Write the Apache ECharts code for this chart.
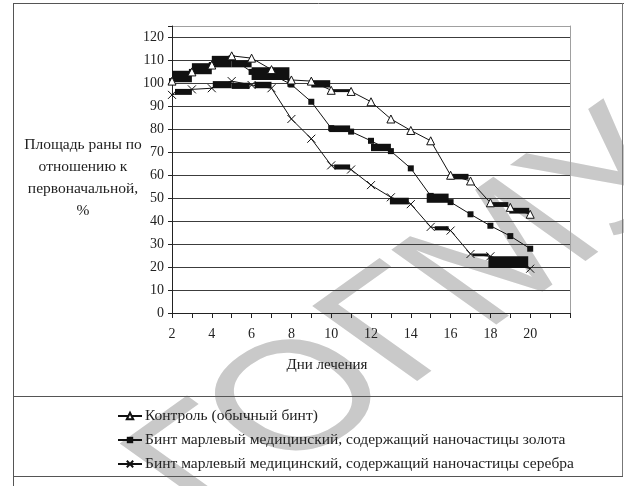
<!DOCTYPE html>
<html>
<head>
<meta charset="utf-8">
<script src="https://cdn.jsdelivr.net/npm/echarts@6/dist/echarts.min.js"></script>
<style>
  html, body { margin: 0; padding: 0; background: #fff; }
  #chart { width: 624px; height: 486px; }
</style>
</head>
<body>
<div id="chart"></div>
<script>
// Дни лечения
const days = [2, 3, 4, 5, 6, 7, 8, 9, 10, 11, 12, 13, 14, 15, 16, 17, 18, 19, 20];

// Площадь раны, % от первоначальной
const control = [101, 105, 108, 112, 111, 106, 101.5, 101, 97, 96.5, 92, 84.5, 79.5, 75, 60, 57.5, 48, 46, 43];
const gold    = [101, 105, 108, 111, 105, 104, 99.5, 92, 80.5, 79, 75, 70.5, 63, 51, 48.3, 43, 38, 33.5, 28];
const silver  = [95, 97.4, 97.9, 101, 99.3, 97.9, 84.5, 75.9, 64.3, 62.5, 55.7, 50.4, 47.4, 37.5, 35.9, 25.7, 24.7, 21.8, 19.3];

const seriesNames = [
  'Контроль (обычный бинт)',
  'Бинт марлевый медицинский, содержащий наночастицы золота',
  'Бинт марлевый медицинский, содержащий наночастицы серебра'
];

// Thick dark segments along the curves: [day from, day to, value low, value high]
const heavySegments = [
  [2, 3, 100.5, 105.5], [3, 4, 104, 108.8], [4, 5, 107, 112], [5, 6, 107, 110],
  [6, 7.9, 101.5, 107], [7.8, 8.05, 98.5, 101.5],
  [2.15, 3, 95, 97.6], [4.05, 5, 97.9, 101], [5, 5.9, 97.6, 100.3], [6.15, 7, 97.9, 100.7],
  [9, 9.95, 98.2, 101.4], [10.05, 10.95, 96.2, 97.5], [9.9, 10.95, 78.8, 81.7],
  [12, 13, 70.5, 73.7], [10.15, 10.95, 62.5, 64.7], [12.95, 13.9, 47.3, 50.2],
  [14.8, 15.9, 48, 52], [15.9, 16.9, 58.2, 60.6], [17.95, 18.9, 46.2, 48.3],
  [18.95, 19.95, 43.3, 45.8], [15.2, 15.9, 36, 37.8], [17.1, 17.9, 24.7, 25.9],
  [17.9, 19.9, 19.6, 24.7]
];

const xTicks = [2, 4, 6, 8, 10, 12, 14, 16, 18, 20];
const yTicks = [0, 10, 20, 30, 40, 50, 60, 70, 80, 90, 100, 110, 120];

const pairs = vals => days.map((d, i) => [d, vals[i]]);
const serif = 'Liberation Serif';
const crossPath = 'path://M0,0L10,10M10,0L0,10';

// dark grid lines, lighter frame line at the top of the plot
const gridColors = yTicks.map(() => '#3c3c3c').concat(['#a0a0a0']);

const chart = echarts.init(document.getElementById('chart'), null, { renderer: 'canvas' });

chart.setOption({
  animation: false,
  backgroundColor: '#fff',
  textStyle: { fontFamily: serif, color: '#222' },
  grid: { left: 172, right: 54, top: 26, bottom: 173 },
  xAxis: {
    type: 'value', min: 2, max: 22, interval: 1,
    axisLine: { lineStyle: { color: '#222', width: 1 } },
    axisTick: { show: true, length: 5, lineStyle: { color: '#222' } },
    axisLabel: {
      fontFamily: serif, fontSize: 14, color: '#222', margin: 14,
      formatter: v => (xTicks.indexOf(v) >= 0 ? String(v) : '')
    },
    splitLine: { show: false }
  },
  yAxis: [{
    type: 'value', min: 0, max: 125, interval: 10,
    axisLine: { show: true, lineStyle: { color: '#222' } },
    axisTick: { show: true, length: 4, lineStyle: { color: '#222' } },
    axisLabel: {
      fontFamily: serif, fontSize: 14, color: '#222', margin: 8,
      formatter: v => (yTicks.indexOf(v) >= 0 ? String(v) : '')
    },
    splitLine: { show: true, lineStyle: { color: gridColors, width: 1 } }
  }, {
    type: 'value', min: 0, max: 125, position: 'right',
    axisLine: { show: true, lineStyle: { color: '#a0a0a0' } },
    axisTick: { show: false }, axisLabel: { show: false }, splitLine: { show: false }
  }],
  legend: {
    orient: 'vertical', left: 112, top: 403, itemGap: 8,
    itemWidth: 24, itemHeight: 8,
    textStyle: { fontFamily: serif, fontSize: 15.5, color: '#222', padding: [0, 0, 0, -2] },
    data: seriesNames
  },
  series: [
    {
      type: 'custom', silent: true, z: 1,
      renderItem: (params, api) => {
        const a = api.coord([api.value(0), api.value(3)]);
        const b = api.coord([api.value(1), api.value(2)]);
        return { type: 'rect', shape: { x: a[0], y: a[1], width: b[0] - a[0], height: b[1] - a[1] },
                 style: { fill: '#111' } };
      },
      data: heavySegments
    },
    {
      name: seriesNames[0], type: 'line', z: 3, data: pairs(control),
      symbol: 'triangle', symbolSize: 8,
      lineStyle: { color: '#111', width: 1 },
      itemStyle: { color: '#fff', borderColor: '#111', borderWidth: 1 }
    },
    {
      name: seriesNames[1], type: 'line', z: 2, data: pairs(gold),
      symbol: 'rect', symbolSize: 6,
      lineStyle: { color: '#111', width: 1 },
      itemStyle: { color: '#111', borderColor: '#111', borderWidth: 0 }
    },
    {
      name: seriesNames[2], type: 'line', z: 2, data: pairs(silver),
      symbol: crossPath, symbolSize: 8,
      lineStyle: { color: '#111', width: 1 },
      itemStyle: { color: 'none', borderColor: '#111', borderWidth: 1 }
    }
  ],
  graphic: [
    // watermark, rotated then stretched horizontally
    { type: 'group', z: -10, x: 0, y: 0, scaleX: 1.4, scaleY: 1,
      children: [
        { type: 'text', x: 176, y: 552, rotation: Math.PI / 4,
          style: { text: 'ГОГМУ', fontFamily: 'Liberation Sans', fontSize: 154,
                   fill: '#c9c9c9', textAlign: 'left', textVerticalAlign: 'bottom' } }
      ] },
    // outer frame and legend separators
    { type: 'line', shape: { x1: 13.5, y1: 3, x2: 13.5, y2: 486 }, style: { stroke: '#555', lineWidth: 1 } },
    { type: 'line', shape: { x1: 13, y1: 3.5, x2: 624, y2: 3.5 }, style: { stroke: '#555', lineWidth: 1 } },
    { type: 'line', shape: { x1: 622.5, y1: 3, x2: 622.5, y2: 476 }, style: { stroke: '#777', lineWidth: 1 } },
    { type: 'line', shape: { x1: 13, y1: 396.5, x2: 623, y2: 396.5 }, style: { stroke: '#555', lineWidth: 1 } },
    { type: 'line', shape: { x1: 13, y1: 476.5, x2: 623, y2: 476.5 }, style: { stroke: '#555', lineWidth: 1 } },
    // axis titles
    { type: 'text', x: 83, y: 134,
      style: { text: 'Площадь раны по\nотношению к\nпервоначальной,\n%', fontFamily: serif, fontSize: 15.5,
               lineHeight: 22, fill: '#222', textAlign: 'center' } },
    { type: 'text', x: 327, y: 358,
      style: { text: 'Дни лечения', fontFamily: serif, fontSize: 15, fill: '#222', textAlign: 'center' } }
  ]
});
</script>
</body>
</html>
